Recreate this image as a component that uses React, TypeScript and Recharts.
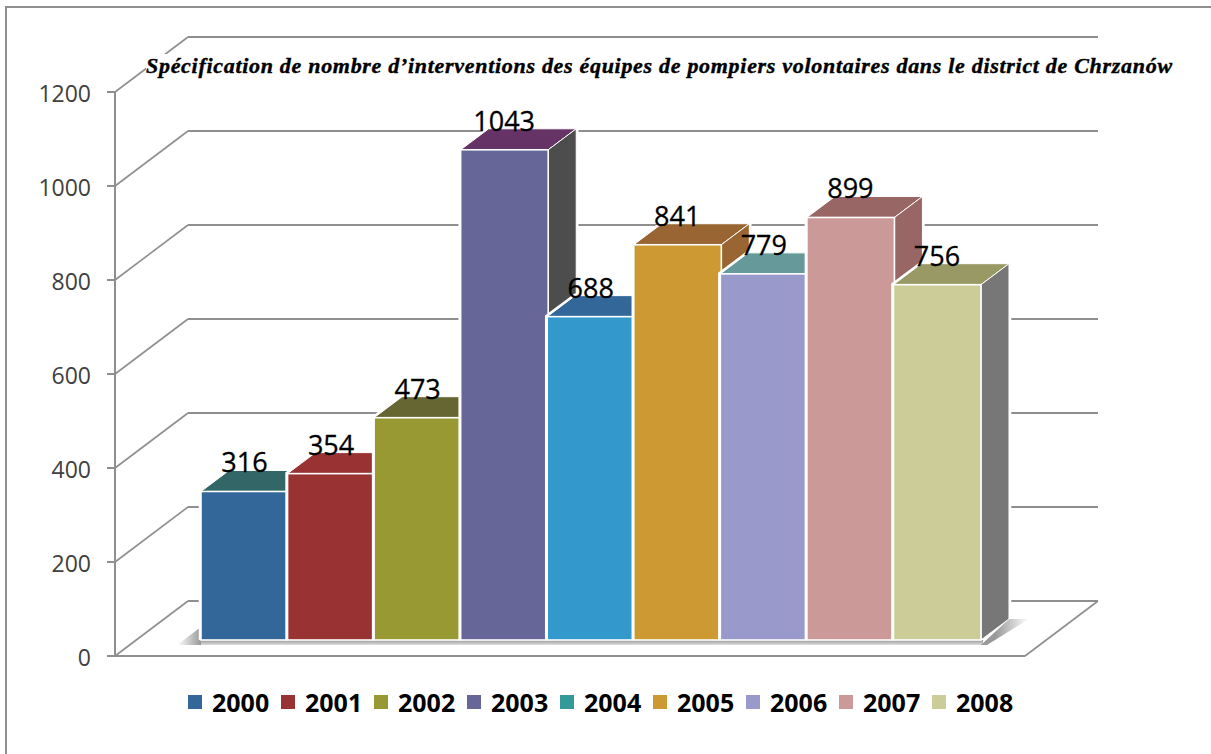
import { BarChart, Bar, XAxis, YAxis, CartesianGrid, Legend, LabelList } from 'recharts';

const years = ['2000', '2001', '2002', '2003', '2004', '2005', '2006', '2007', '2008'];
const values = [316, 354, 473, 1043, 688, 841, 779, 899, 756];
const legendColors = ['#336699', '#993333', '#999933', '#666699', '#339999', '#cc9933', '#9999cc', '#cc9999', '#cccc99'];
const frontColors = ['#336699', '#993333', '#999933', '#666699', '#3399cc', '#cc9933', '#9999cc', '#cc9999', '#cccc99'];
const topColors = ['#336666', '#993333', '#666633', '#663366', '#336699', '#996633', '#669999', '#996666', '#999966'];
const sideColors = ['#336666', '#993333', '#666633', '#4d4d4d', '#336699', '#996633', '#669999', '#996666', '#777777'];
const yTicks = [0, 200, 400, 600, 800, 1000, 1200];
const title = 'Spécification de nombre d’interventions des équipes de pompiers volontaires dans le district de Chrzanów';

const data = years.map((year, i) => ({ year, value: values[i] }));

const FONT = '"Open Sans", sans-serif';
const LINE = '#8f8f8f';
// fake 3D offsets
const WALL_DX = 73;
const WALL_DY = 55;
const BAR_DX = 28;
const BAR_DY = 21;
const BAR_LIFT = 16;

function WallLine(props: any) {
  const { x1, y1, x2, index } = props;
  const bx = x1 + WALL_DX;
  const by = y1 - WALL_DY;
  return (
    <g key={`wall-${index}`} fill="none" stroke={LINE}>
      <line x1={x1} y1={y1} x2={bx} y2={by} strokeWidth={1.6} />
      <line x1={bx} y1={by} x2={x2 + WALL_DX} y2={by} strokeWidth={2} />
      {y1 > 600 && <line x1={x2} y1={y1} x2={x2 + WALL_DX} y2={by} strokeWidth={1.6} />}
    </g>
  );
}

function Box3D(props: any) {
  const { x, y, height, index: i } = props;
  const width = props.width + 0.55;
  const top = y - BAR_LIFT;
  const base = y + height - BAR_LIFT;
  const right = x + width;
  const last = i === years.length - 1;
  return (
    <g>
      <rect x={x} y={base} width={width + (last ? 2 : 0)} height={5} fill="url(#floorShade)" />
      {i === 0 && (
        <polygon points={`${x},${base - 13} ${x},${base + 5} ${x - 24},${base + 5}`} fill="url(#shadeLeft)" />
      )}
      {last && (
        <polygon
          points={`${right},${base + 5} ${right + BAR_DX},${base - BAR_DY} ${right + BAR_DX + 20},${base - BAR_DY} ${right + 6},${base + 5}`}
          fill="url(#shadeRight)"
        />
      )}
      <polyline
        points={`${x},${base} ${x},${top} ${x + BAR_DX},${top - BAR_DY} ${right + BAR_DX},${top - BAR_DY} ${right + BAR_DX},${base - BAR_DY}`}
        fill="none"
        stroke="#fff"
        strokeWidth={4.5}
      />
      <polygon
        points={`${x},${top} ${x + BAR_DX},${top - BAR_DY} ${right + BAR_DX},${top - BAR_DY} ${right},${top}`}
        fill={topColors[i]}
        stroke="#fff"
        strokeWidth={1}
      />
      <polygon
        points={`${right},${top} ${right + BAR_DX},${top - BAR_DY} ${right + BAR_DX},${base - BAR_DY} ${right},${base}`}
        fill={sideColors[i]}
        stroke="#fff"
        strokeWidth={1}
      />
      <rect x={x} y={top} width={width} height={height} fill={frontColors[i]} stroke="#fff" strokeWidth={1.6} />
    </g>
  );
}

function LegendRow() {
  return (
    <div style={{ display: 'flex', fontFamily: FONT, fontWeight: 700, fontSize: 25, lineHeight: '36px', color: '#000' }}>
      {years.map((y, i) => (
        <div key={y} style={{ width: 93, display: 'flex', alignItems: 'center' }}>
          <span style={{ width: 14, height: 14, background: legendColors[i], marginRight: 10, flex: 'none' }} />
          <span>{y}</span>
        </div>
      ))}
    </div>
  );
}

export default function App() {
  return (
    <div style={{ position: 'absolute', left: 0, top: 0, width: 1211, height: 754, background: '#fff', overflow: 'hidden' }}>
      <div
        style={{
          position: 'absolute',
          left: 5,
          top: 6,
          width: 1206,
          height: 748,
          borderLeft: `2px solid ${LINE}`,
          borderTop: `2px solid ${LINE}`,
          boxSizing: 'border-box',
        }}
      />
      <BarChart width={1211} height={754} data={data} margin={{ top: 92, right: 186, bottom: 97, left: 0 }} barCategoryGap={0}>
        <defs>
          <linearGradient id="floorShade" x1="0" y1="0" x2="0" y2="1">
            <stop offset="0%" stopColor="#999" />
            <stop offset="100%" stopColor="#ddd" />
          </linearGradient>
          <linearGradient id="shadeLeft" x1="1" y1="0" x2="0" y2="0">
            <stop offset="0%" stopColor="#999" />
            <stop offset="100%" stopColor="#fff" />
          </linearGradient>
          <linearGradient id="shadeRight" x1="0" y1="0" x2="1" y2="0">
            <stop offset="30%" stopColor="#999" />
            <stop offset="100%" stopColor="#fff" />
          </linearGradient>
        </defs>
        <CartesianGrid horizontal={WallLine} vertical={false} />
        <XAxis
          dataKey="year"
          height={1}
          tick={false}
          tickLine={false}
          axisLine={{ stroke: LINE, strokeWidth: 2 }}
          padding={{ left: 86, right: 45 }}
        />
        <YAxis
          width={115}
          domain={[0, 1200]}
          ticks={yTicks}
          interval={0}
          tickSize={8}
          tickMargin={16}
          axisLine={{ stroke: LINE, strokeWidth: 2 }}
          tickLine={{ stroke: LINE, strokeWidth: 2 }}
          tick={{ fill: '#404040', fontSize: 23, fontFamily: FONT, dy: 2 }}
        />
        <Legend
          layout="horizontal"
          verticalAlign="middle"
          wrapperStyle={{ left: 188, top: 684, width: 900, bottom: 'auto', right: 'auto' }}
          content={LegendRow}
        />
        <Bar dataKey="value" fill={frontColors[0]} isAnimationActive={false} shape={Box3D}>
          <LabelList
            dataKey="value"
            position="top"
            offset={35}
            fill="#000"
            stroke="#000"
            strokeWidth={0.3}
            fontSize={27}
            fontFamily={FONT}
          />
        </Bar>
      </BarChart>
      <div
        style={{
          position: 'absolute',
          left: 146,
          top: 54,
          background: '#fff',
          fontFamily: '"Liberation Serif", serif',
          fontWeight: 700,
          fontStyle: 'italic',
          fontSize: 22,
          letterSpacing: 0.7,
          lineHeight: '24px',
          whiteSpace: 'nowrap',
          color: '#000',
          WebkitTextStroke: '0.4px #000',
        }}
      >
        {title}
      </div>
    </div>
  );
}
